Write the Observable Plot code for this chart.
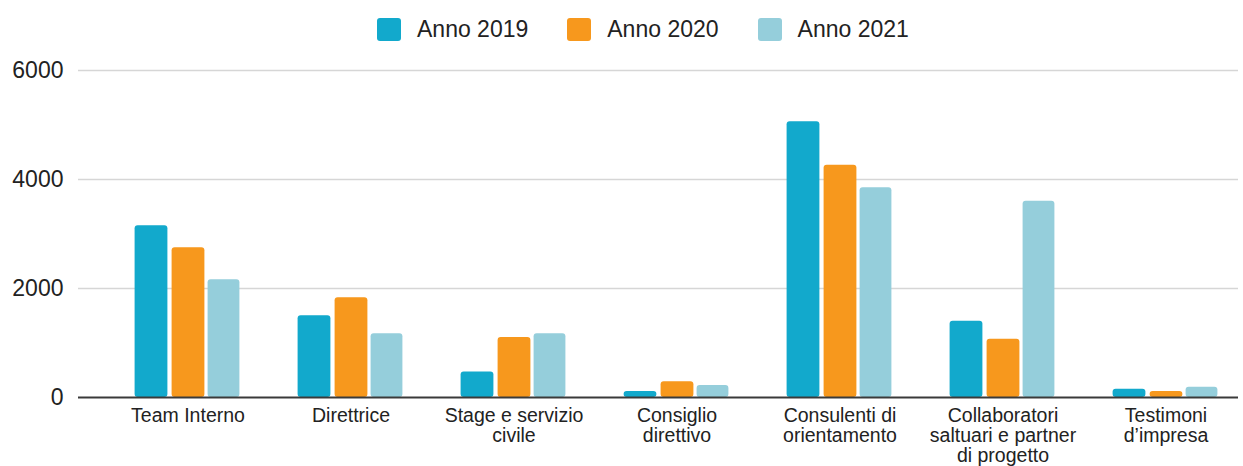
<!DOCTYPE html>
<html>
<head>
<meta charset="utf-8">
<script src="https://cdn.jsdelivr.net/npm/d3@7"></script>
<script src="https://cdn.jsdelivr.net/npm/@observablehq/plot@0.6"></script>
<style>
  html, body { margin: 0; padding: 0; background: #fff; }
  body { font-family: "Liberation Sans", Arial, Helvetica, sans-serif; width: 1243px; height: 466px; overflow: hidden; }
  #legend { position: relative; height: 50px; }
  #legend .row { position: absolute; left: 377px; top: 17px; display: flex; align-items: center; }
  #legend .item { display: flex; align-items: center; margin-right: 39px; }
  #legend .sw { width: 24px; height: 23px; border-radius: 3px; margin-right: 16px; }
  #legend .lab { font-size: 23px; color: #222; line-height: 24px; }
</style>
</head>
<body>
<div id="legend"></div>
<div id="chart"></div>
<script>
// ---- data ----
const categories = ["Team Interno", "Direttrice", "Stage e servizio civile", "Consiglio direttivo", "Consulenti di orientamento", "Collaboratori saltuari e partner di progetto", "Testimoni d'impresa"];
const tickLabels = ["Team Interno", "Direttrice", "Stage e servizio\ncivile", "Consiglio\ndirettivo", "Consulenti di\norientamento", "Collaboratori\nsaltuari e partner\ndi progetto", "Testimoni\nd\u2019impresa"];
const series = ["Anno 2019", "Anno 2020", "Anno 2021"];
const colors = ["#12a9cc", "#f7981d", "#95cedb"];
const values2019 = [3150, 1500, 470, 110, 5060, 1400, 150];
const values2020 = [2750, 1830, 1100, 290, 4260, 1070, 110];
const values2021 = [2160, 1170, 1170, 220, 3850, 3600, 190];
const yTicks = [0, 2000, 4000, 6000];

// ---- build tables ----
const allValues = [values2019, values2020, values2021];
const rows = series.map((s, k) => categories.map((c, i) => ({category: c, series: s, value: allValues[k][i]})));
const labelRows = categories.map((c, i) => ({category: c, label: tickLabels[i]}));

// bar placement within each category band (band step ~163px)
const insets = [
  {insetLeft: 28.6, insetRight: 101.6},
  {insetLeft: 65.6, insetRight: 64.6},
  {insetLeft: 101.6, insetRight: 29.6}
];

const chart = Plot.plot({
  width: 1243,
  height: 416,
  marginTop: 20,
  marginBottom: 69,
  marginLeft: 78,
  marginRight: 5,
  style: {fontFamily: "'Liberation Sans', Arial, Helvetica, sans-serif", fontSize: "23px", color: "#222", background: "#fff"},
  x: {domain: categories, range: [105.4, 1247.6], padding: 0, axis: null},
  y: {domain: [0, 6000], ticks: yTicks, tickFormat: d => String(d), tickSize: 0, tickPadding: 15, label: null},
  color: {domain: series, range: colors},
  marks: [
    Plot.ruleY(yTicks.filter(d => d > 0), {stroke: "#d6d6d6", strokeWidth: 1.6}),
    ...rows.map((data, k) => Plot.barY(data, {
      x: "category", y: "value", fill: "series", rx: 3, ...insets[k]
    })),
    Plot.ruleY([0], {stroke: "#3a3a3a", strokeWidth: 1.8}),
    Plot.text(labelRows, {
      x: "category", frameAnchor: "bottom", dy: 10, lineAnchor: "top",
      text: "label", fontSize: 19.5, lineHeight: 1.03, fill: "#222"
    })
  ]
});
document.getElementById("chart").appendChild(chart);

// ---- legend from the color scale ----
const cs = chart.scale("color");
const row = document.createElement("div");
row.className = "row";
cs.domain.forEach((s, i) => {
  const item = document.createElement("div");
  item.className = "item";
  const sw = document.createElement("div");
  sw.className = "sw";
  sw.style.background = cs.range[i];
  const lab = document.createElement("div");
  lab.className = "lab";
  lab.textContent = s;
  item.appendChild(sw);
  item.appendChild(lab);
  row.appendChild(item);
});
document.getElementById("legend").appendChild(row);
</script>
</body>
</html>
